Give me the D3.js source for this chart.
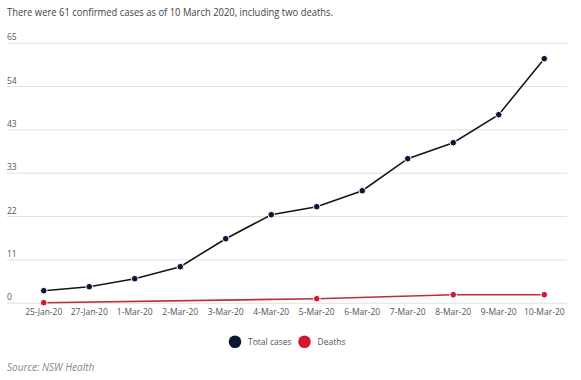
<!DOCTYPE html>
<html><head><meta charset="utf-8">
<script src="https://cdn.jsdelivr.net/npm/d3@7"></script>
<style>
body{margin:0;background:#fff;}
text{font-family:"Open Sans",sans-serif;}
</style></head>
<body><svg id="c" width="581" height="380"></svg>
<script>
const categories = ["25-Jan-20","27-Jan-20","1-Mar-20","2-Mar-20","3-Mar-20","4-Mar-20","5-Mar-20","6-Mar-20","7-Mar-20","8-Mar-20","9-Mar-20","10-Mar-20"];
const totalCases = [3,4,6,9,16,22,24,28,36,40,47,61];
const deaths = [0,null,null,null,null,null,1,null,null,2,null,2];
const yTicks = [0,65/6,130/6,195/6,260/6,325/6,65];
const seriesNames = ["Total cases","Deaths"];
const colors = ["#0b1633","#d3172f"];

const svg = d3.select("#c");
const x = d3.scaleBand().domain(categories).range([21,567]);
const y = d3.scaleLinear().domain([0,65]).range([302.7,42.7]);

svg.append("text").attr("x",7).attr("y",16).attr("font-size",10.3).attr("fill","#444")
  .attr("textLength",326).attr("lengthAdjust","spacingAndGlyphs")
  .text("There were 61 confirmed cases as of 10 March 2020, including two deaths.");

const yAxis = d3.axisLeft(y).tickValues(yTicks).tickSize(0).tickFormat(d=>Math.round(d));
const ga = svg.append("g").call(yAxis);
ga.select(".domain").remove();
ga.selectAll(".tick").each(function(d){
  const g = d3.select(this);
  g.append("line").attr("x1",7).attr("x2",567).attr("stroke","#e0e0e0").attr("stroke-width",1);
  g.select("text").attr("x",7).attr("dy",-3).attr("text-anchor","start").attr("font-size",8.5).attr("fill","#555").attr("font-family","Open Sans, sans-serif");
});

const xAxis = d3.axisBottom(x).tickSize(0);
const gx = svg.append("g").attr("transform","translate(0,303)").call(xAxis);
gx.select(".domain").remove();
gx.selectAll("text").attr("dy",0).attr("y",12).attr("font-size",8.5).attr("fill","#555").attr("font-family","Open Sans, sans-serif");

const cx = d => x(d) + x.bandwidth()/2;

function series(vals, lineColor, dotColor){
  const pts = categories.map((c,i)=>({c,v:vals[i]})).filter(p=>p.v!==null);
  svg.append("path").datum(pts).attr("fill","none").attr("stroke",lineColor).attr("stroke-width",1.6)
    .attr("d", d3.line().x(p=>cx(p.c)).y(p=>y(p.v)));
  svg.selectAll(null).data(pts).enter().append("circle")
    .attr("cx",p=>cx(p.c)).attr("cy",p=>y(p.v)).attr("r",3.3)
    .attr("fill",dotColor).attr("stroke","#fff").attr("stroke-width",1);
}
series(deaths, "#b8303c", colors[1]);
series(totalCases, "#161616", colors[0]);

const leg = [{n:seriesNames[0],c:colors[0],x:235},{n:seriesNames[1],c:colors[1],x:304.5}];
leg.forEach(l=>{
  svg.append("circle").attr("cx",l.x).attr("cy",341.7).attr("r",6.3).attr("fill",l.c);
  svg.append("text").attr("x",l.x+13).attr("y",344.7).attr("font-size",8.5).attr("fill","#555").text(l.n);
});

svg.append("text").attr("x",7).attr("y",371).attr("font-size",10).attr("font-style","italic").attr("fill","#888")
  .text("Source: NSW Health");
</script></body></html>
